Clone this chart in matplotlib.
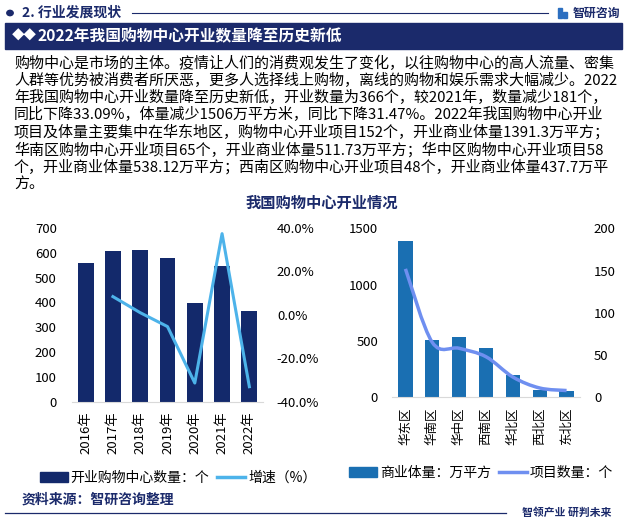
import matplotlib
matplotlib.use("Agg")
import matplotlib.pyplot as plt
import numpy as np
from matplotlib.lines import Line2D
from matplotlib.patches import Patch, PathPatch, Rectangle
from matplotlib.path import Path

plt.rcParams["font.family"] = ["Noto Sans CJK SC", "DejaVu Sans"]

# ---- data -------------------------------------------------------------
years = ["2016年", "2017年", "2018年", "2019年", "2020年", "2021年", "2022年"]
mall_count = [560, 607, 613, 580, 398, 547, 366]
growth_pct = [np.nan, 8.4, 1.0, -5.4, -31.4, 37.4, -33.09]

regions = ["华东区", "华南区", "华中区", "西南区", "华北区", "西北区", "东北区"]
floor_area = [1391.3, 511.73, 538.12, 437.7, 198, 65, 60]
project_count = [152, 65, 58, 48, 24, 11, 8]

paragraph = [
    "购物中心是市场的主体。疫情让人们的消费观发生了变化，以往购物中心的高人流量、密集",
    "人群等优势被消费者所厌恶，更多人选择线上购物，离线的购物和娱乐需求大幅减少。2022",
    "年我国购物中心开业数量降至历史新低，开业数量为366个，较2021年，数量减少181个，",
    "同比下降33.09%，体量减少1506万平方米，同比下降31.47%。2022年我国购物中心开业",
    "项目及体量主要集中在华东地区，购物中心开业项目152个，开业商业体量1391.3万平方；",
    "华南区购物中心开业项目65个，开业商业体量511.73万平方；华中区购物中心开业项目58",
    "个，开业商业体量538.12万平方；西南区购物中心开业项目48个，开业商业体量437.7万平",
    "方。",
]

NAVY = "#1b2a6b"
BAR_L = "#13296b"
LINE_L = "#4db3ea"
BAR_R = "#1a6fb2"
LINE_R = "#6f8ff0"

W, H = 627, 522
fig = plt.figure(figsize=(W / 100, H / 100), dpi=100)


def fx(x):
    return x / W


def fy(y):
    return 1 - y / H


def axes_px(x0, y0, x1, y1):
    return fig.add_axes([fx(x0), fy(y1), (x1 - x0) / W, (y1 - y0) / H])


# ---- header ------------------------------------------------------------
fig.patches.append(plt.Circle((fx(10), fy(13)), 3.2 / W, transform=fig.transFigure, color=NAVY))
fig.text(fx(22), fy(13), "2. 行业发展现状", fontsize=10, fontweight="bold", color=NAVY, va="center")
fig.add_artist(Line2D([fx(132), fx(548)], [fy(13), fy(13)], color=NAVY, lw=0.8))
fig.patches.append(Rectangle((fx(558), fy(18)), 4 / W, 10 / H, transform=fig.transFigure, color="#2c6fc0"))
fig.patches.append(Rectangle((fx(563), fy(18)), 4 / W, 6 / H, transform=fig.transFigure, color="#2c6fc0"))
fig.text(fx(573), fy(13), "智研咨询", fontsize=8.6, fontweight="bold", color=NAVY, va="center")

fig.patches.append(Rectangle((fx(5), fy(49)), 617 / W, 26 / H, transform=fig.transFigure, color=NAVY))
fig.text(fx(12), fy(36), "◆◆", fontsize=9, color="white", va="center")
fig.text(fx(38), fy(36), "2022年我国购物中心开业数量降至历史新低", fontsize=11.3,
         fontweight="bold", color="white", va="center")

for i, line in enumerate(paragraph):
    fig.text(fx(14), fy(63 + i * 17.3), line, fontsize=10.8, color="black", va="center")

fig.text(fx(322), fy(203), "我国购物中心开业情况", fontsize=11, fontweight="bold",
         color=NAVY, ha="center", va="center")

# ---- left chart --------------------------------------------------------
ax = axes_px(72, 228, 263, 401.7)
x = np.arange(len(years))
ax.bar(x, mall_count, width=0.58, color=BAR_L)
ax.set_xlim(-0.5, len(years) - 0.5)
ax.set_ylim(0, 700)
ax.set_yticks(range(0, 701, 100))
ax.set_xticks(x)
ax.set_xticklabels(years, rotation=90, fontsize=9.5)
ax.tick_params(axis="x", length=0, pad=7)
ax.tick_params(axis="y", length=0, labelsize=9.5, pad=11)
for s in ["top", "right", "left"]:
    ax.spines[s].set_visible(False)
ax.spines["bottom"].set_color("#d9d9d9")

ax2 = ax.twinx()
ax2.plot(x, growth_pct, color=LINE_L, lw=2.2)
ax2.set_ylim(-40, 40)
ax2.set_yticks([-40, -20, 0, 20, 40])
ax2.set_yticklabels([f"{v:.1f}%" for v in [-40, -20, 0, 20, 40]])
ax2.tick_params(axis="y", length=0, labelsize=9.5, pad=10)
for s in ax2.spines.values():
    s.set_visible(False)

fig.legend(
    handles=[Patch(color=BAR_L), Line2D([], [], color=LINE_L, lw=2.5)],
    labels=["开业购物中心数量：个", "增速（%）"],
    loc="center", bbox_to_anchor=(fx(178), fy(478)), ncol=2, frameon=False,
    fontsize=10, handlelength=2.0, handletextpad=0.2, columnspacing=0.6,
)

# ---- right chart -------------------------------------------------------
bx = axes_px(392, 228.3, 580, 397.3)
xr = np.arange(len(regions))
bx.bar(xr, floor_area, width=0.53, color=BAR_R)
bx.set_xlim(-0.5, len(regions) - 0.5)
bx.set_ylim(0, 1500)
bx.set_yticks([0, 500, 1000, 1500])
bx.set_xticks(xr)
bx.set_xticklabels(regions, rotation=90, fontsize=9)
bx.tick_params(axis="x", length=0, pad=7)
bx.tick_params(axis="y", length=0, labelsize=9.5, pad=10)
for s in ["top", "right", "left"]:
    bx.spines[s].set_visible(False)
bx.spines["bottom"].set_color("#d9d9d9")

bx2 = bx.twinx()
bx2.set_ylim(0, 200)
bx2.set_yticks([0, 50, 100, 150, 200])
bx2.tick_params(axis="y", length=0, labelsize=9.5, pad=10)
for s in bx2.spines.values():
    s.set_visible(False)

# smoothed line (Catmull-Rom as cubic Bezier segments)
pts = np.column_stack([xr, project_count]).astype(float)
ext = np.vstack([pts[0], pts, pts[-1]])
verts = [tuple(pts[0])]
codes = [Path.MOVETO]
for i in range(len(pts) - 1):
    p0, p1, p2, p3 = ext[i], ext[i + 1], ext[i + 2], ext[i + 3]
    c1 = p1 + (p2 - p0) / 6
    c2 = p2 - (p3 - p1) / 6
    verts += [tuple(c1), tuple(c2), tuple(p2)]
    codes += [Path.CURVE4] * 3
bx2.add_patch(PathPatch(Path(verts, codes), facecolor="none", edgecolor=LINE_R, lw=2.5))

fig.legend(
    handles=[Patch(color=BAR_R), Line2D([], [], color=LINE_R, lw=2.5)],
    labels=["商业体量：万平方", "项目数量：个"],
    loc="center", bbox_to_anchor=(fx(481), fy(473)), ncol=2, frameon=False,
    fontsize=10, handlelength=2.0, handletextpad=0.2, columnspacing=0.6,
)

# ---- footer ------------------------------------------------------------
fig.text(fx(22), fy(500), "资料来源：智研咨询整理", fontsize=10, fontweight="bold",
         color=NAVY, va="center")
fig.add_artist(Line2D([fx(5), fx(506)], [fy(513), fy(513)], color=NAVY, lw=0.9))
fig.text(fx(522), fy(513), "智领产业 研判未来", fontsize=7.8, fontweight="bold",
         color=NAVY, va="center")

fig.savefig("out.png", dpi=100)
